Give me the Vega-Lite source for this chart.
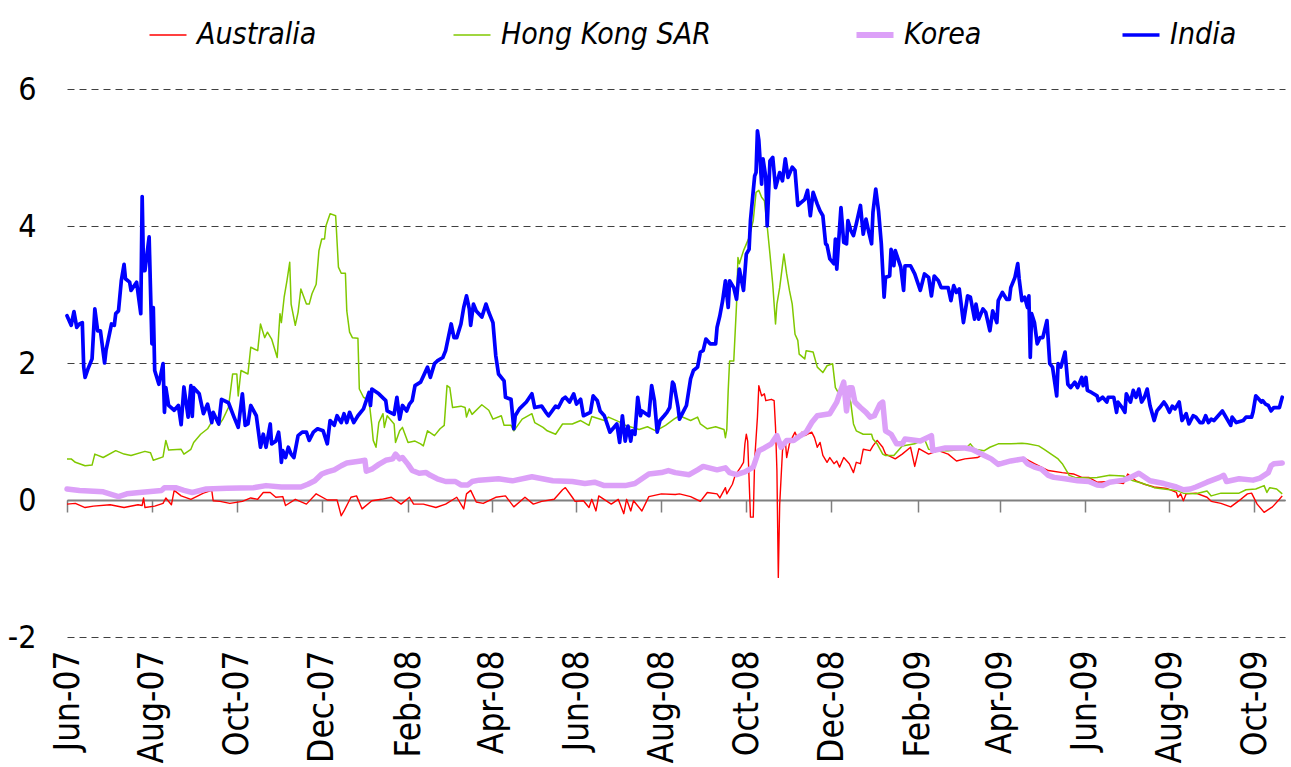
{
"$schema": "https://vega.github.io/schema/vega-lite/v6.json",
"width": 1218, "height": 548,
"autosize": {"type": "none"},
"padding": {"left": 67, "top": 89, "right": 6, "bottom": 130},
"background": "white",
"config": {"view": {"stroke": null}, "font": "DejaVu Sans Condensed, Liberation Sans, sans-serif"},
"datasets": {
"india": [
{"date":"2007-06-01","value":2.69},{"date":"2007-06-04","value":2.55},{"date":"2007-06-06","value":2.75},{"date":"2007-06-08","value":2.52},{"date":"2007-06-10","value":2.57},{"date":"2007-06-12","value":2.59},{"date":"2007-06-13","value":1.94},{"date":"2007-06-14","value":1.79},{"date":"2007-06-16","value":1.91},{"date":"2007-06-19","value":2.06},{"date":"2007-06-21","value":2.79},{"date":"2007-06-23","value":2.47},{"date":"2007-06-25","value":2.47},{"date":"2007-06-28","value":2.0},{"date":"2007-06-29","value":2.18},
{"date":"2007-07-03","value":2.57},{"date":"2007-07-05","value":2.55},{"date":"2007-07-06","value":2.72},{"date":"2007-07-08","value":2.76},{"date":"2007-07-10","value":3.2},{"date":"2007-07-12","value":3.44},{"date":"2007-07-13","value":3.23},{"date":"2007-07-16","value":3.18},{"date":"2007-07-17","value":3.06},{"date":"2007-07-21","value":3.18},{"date":"2007-07-24","value":2.72},{"date":"2007-07-25","value":4.43},{"date":"2007-07-26","value":3.35},{"date":"2007-07-27","value":3.35},{"date":"2007-07-30","value":3.84},
{"date":"2007-08-01","value":2.28},{"date":"2007-08-02","value":2.81},{"date":"2007-08-03","value":1.89},{"date":"2007-08-06","value":1.69},{"date":"2007-08-09","value":1.99},{"date":"2007-08-10","value":1.28},{"date":"2007-08-11","value":1.64},{"date":"2007-08-13","value":1.38},{"date":"2007-08-17","value":1.31},{"date":"2007-08-20","value":1.38},{"date":"2007-08-22","value":1.1},{"date":"2007-08-24","value":1.65},{"date":"2007-08-27","value":1.21},{"date":"2007-08-29","value":1.67},{"date":"2007-08-30","value":1.22},{"date":"2007-08-31","value":1.64},
{"date":"2007-09-04","value":1.55},{"date":"2007-09-07","value":1.26},{"date":"2007-09-10","value":1.4},{"date":"2007-09-13","value":1.13},{"date":"2007-09-14","value":1.28},{"date":"2007-09-18","value":1.11},{"date":"2007-09-20","value":1.47},{"date":"2007-09-25","value":1.42},{"date":"2007-09-29","value":1.21},
{"date":"2007-10-02","value":1.06},{"date":"2007-10-05","value":1.55},{"date":"2007-10-07","value":1.09},{"date":"2007-10-09","value":1.11},{"date":"2007-10-11","value":1.38},{"date":"2007-10-15","value":1.23},{"date":"2007-10-18","value":0.77},{"date":"2007-10-20","value":0.96},{"date":"2007-10-22","value":0.77},{"date":"2007-10-25","value":1.11},{"date":"2007-10-26","value":0.82},{"date":"2007-10-29","value":0.86},{"date":"2007-10-31","value":0.99},
{"date":"2007-11-01","value":0.82},{"date":"2007-11-02","value":0.55},{"date":"2007-11-03","value":0.72},{"date":"2007-11-05","value":0.62},{"date":"2007-11-07","value":0.77},{"date":"2007-11-09","value":0.67},{"date":"2007-11-11","value":0.62},{"date":"2007-11-14","value":0.94},{"date":"2007-11-17","value":0.99},{"date":"2007-11-20","value":0.99},{"date":"2007-11-22","value":0.87},{"date":"2007-11-25","value":0.99},{"date":"2007-11-28","value":1.04},
{"date":"2007-12-02","value":1.01},{"date":"2007-12-05","value":0.82},{"date":"2007-12-07","value":1.16},{"date":"2007-12-10","value":1.09},{"date":"2007-12-12","value":1.23},{"date":"2007-12-15","value":1.13},{"date":"2007-12-17","value":1.26},{"date":"2007-12-19","value":1.13},{"date":"2007-12-21","value":1.28},{"date":"2007-12-24","value":1.13},{"date":"2007-12-27","value":1.23},{"date":"2007-12-31","value":1.33},
{"date":"2008-01-04","value":1.57},{"date":"2008-01-05","value":1.38},{"date":"2008-01-06","value":1.62},{"date":"2008-01-11","value":1.55},{"date":"2008-01-16","value":1.45},{"date":"2008-01-17","value":1.3},{"date":"2008-01-22","value":1.25},{"date":"2008-01-24","value":1.5},{"date":"2008-01-26","value":1.18},{"date":"2008-01-28","value":1.38},{"date":"2008-01-31","value":1.3},
{"date":"2008-02-02","value":1.4},{"date":"2008-02-04","value":1.45},{"date":"2008-02-06","value":1.67},{"date":"2008-02-10","value":1.72},{"date":"2008-02-15","value":1.94},{"date":"2008-02-17","value":1.79},{"date":"2008-02-20","value":1.99},{"date":"2008-02-22","value":2.03},{"date":"2008-02-26","value":2.08},{"date":"2008-02-28","value":2.18},{"date":"2008-02-29","value":2.28},
{"date":"2008-03-03","value":2.57},{"date":"2008-03-05","value":2.37},{"date":"2008-03-07","value":2.37},{"date":"2008-03-10","value":2.57},{"date":"2008-03-12","value":2.81},{"date":"2008-03-14","value":2.98},{"date":"2008-03-16","value":2.79},{"date":"2008-03-17","value":2.55},{"date":"2008-03-19","value":2.86},{"date":"2008-03-21","value":2.76},{"date":"2008-03-25","value":2.67},{"date":"2008-03-28","value":2.86},{"date":"2008-03-30","value":2.74},
{"date":"2008-04-02","value":2.59},{"date":"2008-04-04","value":2.11},{"date":"2008-04-06","value":1.84},{"date":"2008-04-10","value":1.74},{"date":"2008-04-11","value":1.5},{"date":"2008-04-15","value":1.47},{"date":"2008-04-17","value":1.04},{"date":"2008-04-18","value":1.23},{"date":"2008-04-21","value":1.33},{"date":"2008-04-26","value":1.43},{"date":"2008-04-30","value":1.55},
{"date":"2008-05-02","value":1.35},{"date":"2008-05-07","value":1.37},{"date":"2008-05-10","value":1.28},{"date":"2008-05-12","value":1.23},{"date":"2008-05-17","value":1.37},{"date":"2008-05-19","value":1.35},{"date":"2008-05-22","value":1.47},{"date":"2008-05-24","value":1.5},{"date":"2008-05-27","value":1.43},{"date":"2008-05-30","value":1.55},
{"date":"2008-06-01","value":1.4},{"date":"2008-06-04","value":1.47},{"date":"2008-06-06","value":1.23},{"date":"2008-06-11","value":1.28},{"date":"2008-06-13","value":1.52},{"date":"2008-06-16","value":1.45},{"date":"2008-06-18","value":1.3},{"date":"2008-06-21","value":1.23},{"date":"2008-06-23","value":1.11},{"date":"2008-06-25","value":0.99},{"date":"2008-06-30","value":1.11},
{"date":"2008-07-02","value":0.84},{"date":"2008-07-04","value":1.23},{"date":"2008-07-06","value":0.86},{"date":"2008-07-08","value":1.08},{"date":"2008-07-10","value":0.86},{"date":"2008-07-11","value":1.01},{"date":"2008-07-13","value":0.96},{"date":"2008-07-15","value":1.5},{"date":"2008-07-17","value":1.23},{"date":"2008-07-18","value":1.3},{"date":"2008-07-23","value":1.23},{"date":"2008-07-25","value":1.67},{"date":"2008-07-27","value":1.45},{"date":"2008-07-29","value":0.99},{"date":"2008-07-31","value":1.16},
{"date":"2008-08-03","value":1.23},{"date":"2008-08-05","value":1.28},{"date":"2008-08-07","value":1.35},{"date":"2008-08-09","value":1.72},{"date":"2008-08-10","value":1.69},{"date":"2008-08-13","value":1.35},{"date":"2008-08-14","value":1.18},{"date":"2008-08-17","value":1.3},{"date":"2008-08-19","value":1.38},{"date":"2008-08-22","value":1.77},{"date":"2008-08-24","value":1.89},{"date":"2008-08-27","value":1.94},{"date":"2008-08-29","value":2.16},{"date":"2008-08-31","value":2.18},
{"date":"2008-09-02","value":2.35},{"date":"2008-09-05","value":2.28},{"date":"2008-09-09","value":2.28},{"date":"2008-09-10","value":2.52},{"date":"2008-09-12","value":2.69},{"date":"2008-09-14","value":2.91},{"date":"2008-09-16","value":3.2},{"date":"2008-09-18","value":2.81},{"date":"2008-09-19","value":3.2},{"date":"2008-09-22","value":3.1},{"date":"2008-09-24","value":2.93},{"date":"2008-09-26","value":3.37},{"date":"2008-09-29","value":3.06},
{"date":"2008-10-01","value":3.59},{"date":"2008-10-03","value":3.66},{"date":"2008-10-04","value":4.08},{"date":"2008-10-07","value":4.73},{"date":"2008-10-08","value":4.78},{"date":"2008-10-09","value":5.39},{"date":"2008-10-10","value":5.25},{"date":"2008-10-12","value":4.61},{"date":"2008-10-13","value":4.98},{"date":"2008-10-15","value":4.71},{"date":"2008-10-16","value":4.0},{"date":"2008-10-18","value":4.95},{"date":"2008-10-20","value":5.0},{"date":"2008-10-22","value":4.56},{"date":"2008-10-25","value":4.78},{"date":"2008-10-27","value":4.66},{"date":"2008-10-29","value":4.98},{"date":"2008-10-31","value":4.71},
{"date":"2008-11-03","value":4.86},{"date":"2008-11-05","value":4.81},{"date":"2008-11-07","value":4.3},{"date":"2008-11-12","value":4.39},{"date":"2008-11-14","value":4.52},{"date":"2008-11-16","value":4.15},{"date":"2008-11-18","value":4.49},{"date":"2008-11-21","value":4.32},{"date":"2008-11-23","value":4.22},{"date":"2008-11-25","value":4.15},{"date":"2008-11-27","value":3.74},{"date":"2008-11-28","value":3.72},{"date":"2008-11-30","value":3.52},
{"date":"2008-12-03","value":3.45},{"date":"2008-12-04","value":3.81},{"date":"2008-12-05","value":3.37},{"date":"2008-12-08","value":4.27},{"date":"2008-12-10","value":3.76},{"date":"2008-12-12","value":3.74},{"date":"2008-12-13","value":4.08},{"date":"2008-12-15","value":3.94},{"date":"2008-12-17","value":3.86},{"date":"2008-12-19","value":4.03},{"date":"2008-12-22","value":4.3},{"date":"2008-12-24","value":3.88},{"date":"2008-12-26","value":4.1},{"date":"2008-12-28","value":3.91},{"date":"2008-12-30","value":3.74},{"date":"2008-12-31","value":4.2},
{"date":"2009-01-02","value":4.54},{"date":"2009-01-04","value":4.22},{"date":"2009-01-06","value":3.74},{"date":"2009-01-08","value":2.96},{"date":"2009-01-09","value":3.25},{"date":"2009-01-12","value":3.27},{"date":"2009-01-13","value":3.66},{"date":"2009-01-15","value":3.42},{"date":"2009-01-16","value":3.64},{"date":"2009-01-18","value":3.52},{"date":"2009-01-20","value":3.4},{"date":"2009-01-22","value":3.06},{"date":"2009-01-23","value":3.42},{"date":"2009-01-27","value":3.42},{"date":"2009-01-30","value":3.3},
{"date":"2009-02-01","value":3.18},{"date":"2009-02-03","value":3.06},{"date":"2009-02-06","value":3.3},{"date":"2009-02-09","value":3.25},{"date":"2009-02-11","value":2.98},{"date":"2009-02-13","value":3.27},{"date":"2009-02-16","value":3.2},{"date":"2009-02-18","value":3.1},{"date":"2009-02-23","value":3.1},{"date":"2009-02-25","value":2.91},{"date":"2009-02-27","value":3.13},
{"date":"2009-03-01","value":3.03},{"date":"2009-03-03","value":3.08},{"date":"2009-03-06","value":2.59},{"date":"2009-03-09","value":2.98},{"date":"2009-03-11","value":2.96},{"date":"2009-03-14","value":2.64},{"date":"2009-03-15","value":2.86},{"date":"2009-03-17","value":2.64},{"date":"2009-03-20","value":2.79},{"date":"2009-03-22","value":2.74},{"date":"2009-03-25","value":2.47},{"date":"2009-03-27","value":2.76},{"date":"2009-03-30","value":2.59},{"date":"2009-03-31","value":2.91},
{"date":"2009-04-03","value":3.03},{"date":"2009-04-06","value":2.93},{"date":"2009-04-08","value":2.93},{"date":"2009-04-09","value":3.1},{"date":"2009-04-12","value":3.25},{"date":"2009-04-14","value":3.45},{"date":"2009-04-15","value":3.23},{"date":"2009-04-17","value":2.91},{"date":"2009-04-19","value":2.96},{"date":"2009-04-21","value":2.81},{"date":"2009-04-22","value":2.98},{"date":"2009-04-23","value":2.08},{"date":"2009-04-24","value":2.72},{"date":"2009-04-26","value":2.59},{"date":"2009-04-28","value":2.28},{"date":"2009-04-30","value":2.37},
{"date":"2009-05-02","value":2.37},{"date":"2009-05-05","value":2.62},{"date":"2009-05-07","value":1.99},{"date":"2009-05-09","value":1.94},{"date":"2009-05-12","value":1.52},{"date":"2009-05-13","value":1.99},{"date":"2009-05-15","value":1.94},{"date":"2009-05-18","value":2.16},{"date":"2009-05-20","value":1.69},{"date":"2009-05-22","value":1.64},{"date":"2009-05-25","value":1.72},{"date":"2009-05-27","value":1.64},{"date":"2009-05-30","value":1.79},{"date":"2009-05-31","value":1.67},
{"date":"2009-06-02","value":1.79},{"date":"2009-06-03","value":1.6},{"date":"2009-06-06","value":1.57},{"date":"2009-06-10","value":1.52},{"date":"2009-06-11","value":1.45},{"date":"2009-06-14","value":1.5},{"date":"2009-06-17","value":1.43},{"date":"2009-06-18","value":1.5},{"date":"2009-06-22","value":1.5},{"date":"2009-06-24","value":1.28},{"date":"2009-06-25","value":1.43},{"date":"2009-06-28","value":1.35},{"date":"2009-06-30","value":1.28},
{"date":"2009-07-01","value":1.55},{"date":"2009-07-04","value":1.43},{"date":"2009-07-06","value":1.6},{"date":"2009-07-08","value":1.5},{"date":"2009-07-10","value":1.62},{"date":"2009-07-12","value":1.43},{"date":"2009-07-14","value":1.5},{"date":"2009-07-16","value":1.62},{"date":"2009-07-18","value":1.38},{"date":"2009-07-21","value":1.16},{"date":"2009-07-23","value":1.3},{"date":"2009-07-25","value":1.35},{"date":"2009-07-28","value":1.43},{"date":"2009-07-30","value":1.37},
{"date":"2009-08-01","value":1.28},{"date":"2009-08-03","value":1.37},{"date":"2009-08-05","value":1.33},{"date":"2009-08-08","value":1.43},{"date":"2009-08-10","value":1.16},{"date":"2009-08-13","value":1.26},{"date":"2009-08-15","value":1.11},{"date":"2009-08-18","value":1.23},{"date":"2009-08-20","value":1.21},{"date":"2009-08-23","value":1.13},{"date":"2009-08-25","value":1.13},{"date":"2009-08-27","value":1.23},{"date":"2009-08-29","value":1.13},{"date":"2009-08-31","value":1.18},
{"date":"2009-09-02","value":1.16},{"date":"2009-09-05","value":1.23},{"date":"2009-09-08","value":1.3},{"date":"2009-09-10","value":1.23},{"date":"2009-09-14","value":1.09},{"date":"2009-09-15","value":1.21},{"date":"2009-09-18","value":1.13},{"date":"2009-09-23","value":1.16},{"date":"2009-09-25","value":1.21},{"date":"2009-09-29","value":1.21},{"date":"2009-09-30","value":1.28},
{"date":"2009-10-02","value":1.52},{"date":"2009-10-03","value":1.5},{"date":"2009-10-06","value":1.43},{"date":"2009-10-07","value":1.45},{"date":"2009-10-09","value":1.4},{"date":"2009-10-11","value":1.38},{"date":"2009-10-13","value":1.3},{"date":"2009-10-15","value":1.35},{"date":"2009-10-19","value":1.35},{"date":"2009-10-21","value":1.5}
],
"hongkong": [
{"date":"2007-06-01","value":0.6},{"date":"2007-06-04","value":0.6},{"date":"2007-06-07","value":0.55},{"date":"2007-06-10","value":0.53},{"date":"2007-06-14","value":0.5},{"date":"2007-06-19","value":0.51},{"date":"2007-06-21","value":0.67},{"date":"2007-06-27","value":0.62},{"date":"2007-07-06","value":0.72},{"date":"2007-07-12","value":0.67},{"date":"2007-07-17","value":0.65},{"date":"2007-07-27","value":0.71},{"date":"2007-07-31","value":0.69},{"date":"2007-08-02","value":0.58},{"date":"2007-08-09","value":0.63},{"date":"2007-08-11","value":0.87},{"date":"2007-08-13","value":0.73},{"date":"2007-08-22","value":0.74},{"date":"2007-08-24","value":0.67},{"date":"2007-08-29","value":0.74},{"date":"2007-08-31","value":0.84},
{"date":"2007-09-05","value":0.96},{"date":"2007-09-10","value":1.04},{"date":"2007-09-15","value":1.21},{"date":"2007-09-18","value":1.09},{"date":"2007-09-21","value":1.18},{"date":"2007-09-25","value":1.35},{"date":"2007-09-28","value":1.84},{"date":"2007-10-01","value":1.84},{"date":"2007-10-02","value":1.52},{"date":"2007-10-04","value":1.89},{"date":"2007-10-09","value":1.84},{"date":"2007-10-11","value":2.23},{"date":"2007-10-16","value":2.18},{"date":"2007-10-18","value":2.57},{"date":"2007-10-21","value":2.37},{"date":"2007-10-23","value":2.45},{"date":"2007-10-26","value":2.35},{"date":"2007-10-30","value":2.08},
{"date":"2007-11-01","value":2.72},{"date":"2007-11-02","value":2.59},{"date":"2007-11-04","value":2.96},{"date":"2007-11-06","value":3.2},{"date":"2007-11-08","value":3.47},{"date":"2007-11-09","value":2.86},{"date":"2007-11-12","value":2.55},{"date":"2007-11-14","value":2.74},{"date":"2007-11-16","value":3.08},{"date":"2007-11-20","value":2.86},{"date":"2007-11-22","value":2.86},{"date":"2007-11-24","value":3.01},{"date":"2007-11-27","value":3.15},{"date":"2007-11-29","value":3.64},
{"date":"2007-12-01","value":3.81},{"date":"2007-12-03","value":3.81},{"date":"2007-12-04","value":4.0},{"date":"2007-12-07","value":4.18},{"date":"2007-12-11","value":4.15},{"date":"2007-12-13","value":3.4},{"date":"2007-12-15","value":3.31},{"date":"2007-12-18","value":3.31},{"date":"2007-12-19","value":2.76},{"date":"2007-12-21","value":2.45},{"date":"2007-12-23","value":2.37},{"date":"2007-12-27","value":2.36},{"date":"2007-12-28","value":1.62},{"date":"2007-12-31","value":1.5},
{"date":"2008-01-04","value":1.45},{"date":"2008-01-06","value":1.09},{"date":"2008-01-07","value":0.87},{"date":"2008-01-09","value":0.77},{"date":"2008-01-11","value":1.13},{"date":"2008-01-14","value":1.26},{"date":"2008-01-15","value":1.06},{"date":"2008-01-17","value":1.23},{"date":"2008-01-22","value":1.11},{"date":"2008-01-23","value":0.84},{"date":"2008-01-26","value":1.01},{"date":"2008-01-28","value":1.06},
{"date":"2008-02-01","value":0.84},{"date":"2008-02-06","value":0.86},{"date":"2008-02-10","value":0.82},{"date":"2008-02-12","value":0.79},{"date":"2008-02-15","value":1.01},{"date":"2008-02-20","value":0.94},{"date":"2008-02-24","value":1.04},{"date":"2008-02-27","value":1.09},{"date":"2008-02-29","value":1.67},
{"date":"2008-03-02","value":1.64},{"date":"2008-03-04","value":1.35},{"date":"2008-03-10","value":1.37},{"date":"2008-03-13","value":1.35},{"date":"2008-03-14","value":1.21},{"date":"2008-03-16","value":1.33},{"date":"2008-03-18","value":1.25},{"date":"2008-03-25","value":1.39},{"date":"2008-03-30","value":1.31},
{"date":"2008-04-02","value":1.18},{"date":"2008-04-08","value":1.23},{"date":"2008-04-10","value":1.09},{"date":"2008-04-15","value":1.09},{"date":"2008-04-17","value":1.01},{"date":"2008-04-23","value":1.18},{"date":"2008-04-30","value":1.26},{"date":"2008-05-02","value":1.13},{"date":"2008-05-08","value":1.06},{"date":"2008-05-11","value":1.01},{"date":"2008-05-17","value":0.96},{"date":"2008-05-22","value":1.11},{"date":"2008-05-29","value":1.11},
{"date":"2008-06-04","value":1.16},{"date":"2008-06-10","value":1.09},{"date":"2008-06-12","value":1.22},{"date":"2008-06-21","value":1.16},{"date":"2008-06-24","value":1.21},{"date":"2008-07-03","value":1.13},{"date":"2008-07-06","value":1.09},{"date":"2008-07-16","value":1.03},{"date":"2008-07-22","value":1.07},{"date":"2008-07-28","value":1.01},{"date":"2008-08-04","value":1.09},{"date":"2008-08-10","value":1.18},{"date":"2008-08-14","value":1.23},{"date":"2008-08-22","value":1.16},{"date":"2008-08-27","value":1.21},{"date":"2008-08-29","value":1.11},
{"date":"2008-09-03","value":1.04},{"date":"2008-09-09","value":1.07},{"date":"2008-09-15","value":1.03},{"date":"2008-09-16","value":0.91},{"date":"2008-09-17","value":1.03},{"date":"2008-09-18","value":1.6},{"date":"2008-09-19","value":2.03},{"date":"2008-09-22","value":2.03},{"date":"2008-09-24","value":2.86},{"date":"2008-09-25","value":3.54},{"date":"2008-09-26","value":3.45},{"date":"2008-09-29","value":3.64},
{"date":"2008-10-03","value":3.83},{"date":"2008-10-06","value":4.08},{"date":"2008-10-08","value":4.49},{"date":"2008-10-10","value":4.52},{"date":"2008-10-12","value":4.42},{"date":"2008-10-14","value":4.37},{"date":"2008-10-16","value":4.0},{"date":"2008-10-18","value":3.59},{"date":"2008-10-20","value":3.15},{"date":"2008-10-22","value":2.57},{"date":"2008-10-23","value":2.86},{"date":"2008-10-25","value":3.1},{"date":"2008-10-28","value":3.59},{"date":"2008-10-30","value":3.3},
{"date":"2008-11-01","value":3.06},{"date":"2008-11-03","value":2.86},{"date":"2008-11-05","value":2.42},{"date":"2008-11-07","value":2.33},{"date":"2008-11-08","value":2.13},{"date":"2008-11-12","value":2.06},{"date":"2008-11-13","value":2.18},{"date":"2008-11-18","value":2.16},{"date":"2008-11-21","value":1.94},{"date":"2008-11-25","value":1.86},{"date":"2008-11-28","value":1.96},
{"date":"2008-12-02","value":1.99},{"date":"2008-12-04","value":1.64},{"date":"2008-12-06","value":1.57},{"date":"2008-12-12","value":1.57},{"date":"2008-12-15","value":1.43},{"date":"2008-12-17","value":1.11},{"date":"2008-12-19","value":1.01},{"date":"2008-12-24","value":0.96},{"date":"2008-12-30","value":0.96},{"date":"2008-12-31","value":0.89},
{"date":"2009-01-03","value":0.82},{"date":"2009-01-07","value":0.67},{"date":"2009-01-09","value":0.65},{"date":"2009-01-15","value":0.65},{"date":"2009-01-21","value":0.79},{"date":"2009-01-30","value":0.82},{"date":"2009-02-04","value":0.87},{"date":"2009-02-06","value":0.89},{"date":"2009-02-09","value":0.74},{"date":"2009-02-14","value":0.72},{"date":"2009-02-23","value":0.72},
{"date":"2009-03-07","value":0.74},{"date":"2009-03-11","value":0.82},{"date":"2009-03-14","value":0.74},{"date":"2009-03-21","value":0.72},{"date":"2009-03-25","value":0.77},{"date":"2009-03-31","value":0.82},{"date":"2009-04-09","value":0.82},{"date":"2009-04-17","value":0.83},{"date":"2009-04-21","value":0.82},{"date":"2009-04-29","value":0.79},
{"date":"2009-05-03","value":0.74},{"date":"2009-05-08","value":0.67},{"date":"2009-05-13","value":0.6},{"date":"2009-05-16","value":0.53},{"date":"2009-05-19","value":0.43},{"date":"2009-05-21","value":0.36},{"date":"2009-05-25","value":0.33},{"date":"2009-06-04","value":0.32},{"date":"2009-06-10","value":0.33},{"date":"2009-06-19","value":0.36},{"date":"2009-06-29","value":0.35},
{"date":"2009-07-06","value":0.28},{"date":"2009-07-13","value":0.24},{"date":"2009-07-21","value":0.18},{"date":"2009-07-28","value":0.16},{"date":"2009-08-06","value":0.14},{"date":"2009-08-11","value":0.1},{"date":"2009-08-20","value":0.09},{"date":"2009-08-28","value":0.13},{"date":"2009-08-31","value":0.06},
{"date":"2009-09-07","value":0.1},{"date":"2009-09-20","value":0.1},{"date":"2009-09-25","value":0.15},{"date":"2009-10-02","value":0.16},{"date":"2009-10-08","value":0.21},{"date":"2009-10-10","value":0.11},{"date":"2009-10-12","value":0.18},{"date":"2009-10-17","value":0.16},{"date":"2009-10-21","value":0.09}
],
"korea": [
{"date":"2007-06-01","value":0.16},{"date":"2007-06-10","value":0.14},{"date":"2007-06-27","value":0.12},{"date":"2007-07-08","value":0.05},{"date":"2007-07-14","value":0.09},{"date":"2007-07-23","value":0.11},{"date":"2007-08-08","value":0.14},{"date":"2007-08-10","value":0.18},{"date":"2007-08-18","value":0.18},{"date":"2007-08-24","value":0.14},{"date":"2007-08-30","value":0.11},{"date":"2007-09-09","value":0.16},{"date":"2007-09-24","value":0.17},{"date":"2007-10-13","value":0.18},{"date":"2007-10-22","value":0.21},
{"date":"2007-11-02","value":0.19},{"date":"2007-11-16","value":0.19},{"date":"2007-11-21","value":0.23},{"date":"2007-11-26","value":0.28},{"date":"2007-12-01","value":0.38},{"date":"2007-12-05","value":0.41},{"date":"2007-12-10","value":0.44},{"date":"2007-12-15","value":0.5},{"date":"2007-12-19","value":0.54},{"date":"2007-12-29","value":0.57},
{"date":"2008-01-01","value":0.58},{"date":"2008-01-02","value":0.42},{"date":"2008-01-06","value":0.45},{"date":"2008-01-11","value":0.52},{"date":"2008-01-16","value":0.58},{"date":"2008-01-21","value":0.6},{"date":"2008-01-23","value":0.67},{"date":"2008-01-26","value":0.6},{"date":"2008-01-28","value":0.62},
{"date":"2008-02-01","value":0.52},{"date":"2008-02-04","value":0.43},{"date":"2008-02-09","value":0.39},{"date":"2008-02-14","value":0.4},{"date":"2008-02-17","value":0.36},{"date":"2008-02-22","value":0.31},{"date":"2008-02-28","value":0.27},{"date":"2008-03-06","value":0.27},{"date":"2008-03-10","value":0.22},{"date":"2008-03-15","value":0.22},{"date":"2008-03-18","value":0.27},{"date":"2008-03-23","value":0.29},
{"date":"2008-04-06","value":0.31},{"date":"2008-04-16","value":0.28},{"date":"2008-04-30","value":0.34},{"date":"2008-05-15","value":0.28},{"date":"2008-05-29","value":0.27},{"date":"2008-06-07","value":0.24},{"date":"2008-06-14","value":0.26},{"date":"2008-06-21","value":0.21},{"date":"2008-07-06","value":0.21},{"date":"2008-07-13","value":0.24},{"date":"2008-07-18","value":0.31},{"date":"2008-07-23","value":0.38},
{"date":"2008-08-01","value":0.4},{"date":"2008-08-06","value":0.43},{"date":"2008-08-11","value":0.4},{"date":"2008-08-21","value":0.37},{"date":"2008-08-27","value":0.44},{"date":"2008-08-31","value":0.49},{"date":"2008-09-10","value":0.44},{"date":"2008-09-16","value":0.47},{"date":"2008-09-19","value":0.4},{"date":"2008-09-24","value":0.37},{"date":"2008-09-30","value":0.41},
{"date":"2008-10-06","value":0.48},{"date":"2008-10-10","value":0.72},{"date":"2008-10-14","value":0.76},{"date":"2008-10-19","value":0.82},{"date":"2008-10-23","value":0.94},{"date":"2008-10-26","value":0.77},{"date":"2008-10-30","value":0.87},{"date":"2008-11-04","value":0.87},{"date":"2008-11-09","value":0.94},{"date":"2008-11-13","value":0.99},{"date":"2008-11-17","value":1.13},{"date":"2008-11-21","value":1.23},{"date":"2008-11-30","value":1.26},
{"date":"2008-12-05","value":1.43},{"date":"2008-12-07","value":1.55},{"date":"2008-12-10","value":1.72},{"date":"2008-12-12","value":1.3},{"date":"2008-12-14","value":1.64},{"date":"2008-12-16","value":1.64},{"date":"2008-12-18","value":1.43},{"date":"2008-12-22","value":1.35},{"date":"2008-12-26","value":1.28},{"date":"2008-12-29","value":1.21},
{"date":"2009-01-01","value":1.23},{"date":"2009-01-05","value":1.4},{"date":"2009-01-07","value":1.43},{"date":"2009-01-09","value":1.01},{"date":"2009-01-13","value":0.96},{"date":"2009-01-17","value":0.82},{"date":"2009-01-21","value":0.82},{"date":"2009-01-23","value":0.89},{"date":"2009-02-03","value":0.86},{"date":"2009-02-11","value":0.94},{"date":"2009-02-12","value":0.72},{"date":"2009-02-21","value":0.76},
{"date":"2009-03-07","value":0.76},{"date":"2009-03-12","value":0.74},{"date":"2009-03-16","value":0.7},{"date":"2009-03-21","value":0.65},{"date":"2009-03-26","value":0.6},{"date":"2009-03-31","value":0.52},{"date":"2009-04-09","value":0.57},{"date":"2009-04-18","value":0.6},{"date":"2009-04-21","value":0.53},{"date":"2009-04-26","value":0.48},
{"date":"2009-05-01","value":0.45},{"date":"2009-05-06","value":0.36},{"date":"2009-05-10","value":0.33},{"date":"2009-05-18","value":0.31},{"date":"2009-05-27","value":0.28},{"date":"2009-06-04","value":0.27},{"date":"2009-06-10","value":0.22},{"date":"2009-06-14","value":0.21},{"date":"2009-06-19","value":0.26},{"date":"2009-06-29","value":0.29},
{"date":"2009-07-04","value":0.33},{"date":"2009-07-10","value":0.39},{"date":"2009-07-18","value":0.28},{"date":"2009-07-28","value":0.24},{"date":"2009-08-06","value":0.19},{"date":"2009-08-11","value":0.15},{"date":"2009-08-16","value":0.16},{"date":"2009-08-20","value":0.19},{"date":"2009-08-28","value":0.26},
{"date":"2009-09-06","value":0.33},{"date":"2009-09-09","value":0.36},{"date":"2009-09-11","value":0.27},{"date":"2009-09-20","value":0.31},{"date":"2009-09-30","value":0.29},{"date":"2009-10-05","value":0.32},{"date":"2009-10-11","value":0.4},{"date":"2009-10-13","value":0.5},{"date":"2009-10-15","value":0.53},{"date":"2009-10-21","value":0.54}
],
"australia": [
{"date":"2007-06-01","value":-0.06},{"date":"2007-06-07","value":-0.05},{"date":"2007-06-14","value":-0.11},{"date":"2007-06-20","value":-0.09},{"date":"2007-07-02","value":-0.07},{"date":"2007-07-12","value":-0.11},{"date":"2007-07-22","value":-0.07},{"date":"2007-07-25","value":-0.08},{"date":"2007-07-26","value":0.03},{"date":"2007-07-27","value":-0.11},
{"date":"2007-08-03","value":-0.09},{"date":"2007-08-09","value":-0.05},{"date":"2007-08-11","value":0.03},{"date":"2007-08-15","value":-0.07},{"date":"2007-08-17","value":0.14},{"date":"2007-08-22","value":0.06},{"date":"2007-08-29","value":0.01},{"date":"2007-09-07","value":0.1},{"date":"2007-09-13","value":0.14},{"date":"2007-09-14","value":-0.01},{"date":"2007-09-19","value":-0.02},{"date":"2007-09-26","value":-0.05},
{"date":"2007-10-05","value":-0.02},{"date":"2007-10-11","value":0.03},{"date":"2007-10-16","value":0.01},{"date":"2007-10-20","value":0.11},{"date":"2007-10-25","value":0.11},{"date":"2007-10-29","value":0.04},{"date":"2007-11-03","value":0.05},{"date":"2007-11-05","value":-0.08},{"date":"2007-11-12","value":0.01},{"date":"2007-11-20","value":-0.06},{"date":"2007-11-27","value":0.09},
{"date":"2007-12-05","value":0.0},{"date":"2007-12-12","value":0.0},{"date":"2007-12-15","value":-0.23},{"date":"2007-12-17","value":-0.16},{"date":"2007-12-22","value":0.04},{"date":"2007-12-26","value":0.06},{"date":"2007-12-30","value":-0.13},
{"date":"2008-01-06","value":-0.01},{"date":"2008-01-13","value":0.01},{"date":"2008-01-20","value":0.04},{"date":"2008-01-27","value":-0.06},{"date":"2008-02-02","value":0.04},{"date":"2008-02-05","value":-0.06},{"date":"2008-02-12","value":-0.06},{"date":"2008-02-21","value":-0.11},{"date":"2008-02-28","value":-0.06},
{"date":"2008-03-07","value":0.04},{"date":"2008-03-12","value":-0.13},{"date":"2008-03-14","value":0.09},{"date":"2008-03-17","value":0.14},{"date":"2008-03-21","value":-0.03},{"date":"2008-03-26","value":-0.05},{"date":"2008-04-04","value":0.04},{"date":"2008-04-11","value":0.06},{"date":"2008-04-17","value":-0.1},{"date":"2008-04-25","value":0.04},
{"date":"2008-05-01","value":-0.06},{"date":"2008-05-07","value":-0.02},{"date":"2008-05-16","value":0.01},{"date":"2008-05-22","value":0.15},{"date":"2008-05-24","value":0.18},{"date":"2008-05-29","value":0.04},{"date":"2008-05-31","value":-0.02},
{"date":"2008-06-06","value":-0.01},{"date":"2008-06-10","value":-0.11},{"date":"2008-06-12","value":0.01},{"date":"2008-06-15","value":-0.16},{"date":"2008-06-17","value":0.06},{"date":"2008-06-26","value":-0.06},{"date":"2008-07-01","value":0.01},{"date":"2008-07-05","value":-0.2},{"date":"2008-07-07","value":0.01},{"date":"2008-07-10","value":-0.16},{"date":"2008-07-12","value":-0.01},{"date":"2008-07-18","value":-0.16},{"date":"2008-07-23","value":0.05},
{"date":"2008-08-01","value":0.09},{"date":"2008-08-11","value":0.08},{"date":"2008-08-14","value":0.09},{"date":"2008-08-22","value":0.05},{"date":"2008-08-29","value":-0.02},{"date":"2008-09-03","value":0.11},{"date":"2008-09-10","value":0.09},{"date":"2008-09-12","value":0.03},{"date":"2008-09-16","value":0.18},{"date":"2008-09-17","value":0.09},{"date":"2008-09-21","value":0.23},{"date":"2008-09-23","value":0.36},{"date":"2008-09-27","value":0.48},{"date":"2008-09-29","value":0.55},{"date":"2008-09-30","value":0.82},
{"date":"2008-10-01","value":0.96},{"date":"2008-10-02","value":0.86},{"date":"2008-10-04","value":-0.25},{"date":"2008-10-06","value":-0.25},{"date":"2008-10-07","value":0.58},{"date":"2008-10-09","value":1.21},{"date":"2008-10-10","value":1.67},{"date":"2008-10-12","value":1.52},{"date":"2008-10-14","value":1.55},{"date":"2008-10-15","value":1.45},{"date":"2008-10-19","value":1.47},{"date":"2008-10-21","value":1.45},{"date":"2008-10-22","value":1.06},{"date":"2008-10-23","value":0.43},{"date":"2008-10-24","value":-1.13},{"date":"2008-10-25","value":-0.06},{"date":"2008-10-27","value":0.72},{"date":"2008-10-29","value":0.87},{"date":"2008-10-30","value":0.62},
{"date":"2008-11-01","value":0.82},{"date":"2008-11-03","value":0.91},{"date":"2008-11-05","value":0.99},{"date":"2008-11-07","value":0.89},{"date":"2008-11-10","value":0.99},{"date":"2008-11-12","value":0.94},{"date":"2008-11-17","value":0.99},{"date":"2008-11-19","value":0.91},{"date":"2008-11-21","value":0.77},{"date":"2008-11-23","value":0.84},{"date":"2008-11-25","value":0.65},{"date":"2008-11-28","value":0.55},{"date":"2008-11-30","value":0.62},
{"date":"2008-12-03","value":0.53},{"date":"2008-12-05","value":0.57},{"date":"2008-12-07","value":0.48},{"date":"2008-12-10","value":0.62},{"date":"2008-12-14","value":0.53},{"date":"2008-12-17","value":0.4},{"date":"2008-12-19","value":0.55},{"date":"2008-12-22","value":0.53},{"date":"2008-12-24","value":0.74},{"date":"2008-12-29","value":0.72},{"date":"2008-12-31","value":0.79},
{"date":"2009-01-03","value":0.87},{"date":"2009-01-07","value":0.77},{"date":"2009-01-09","value":0.67},{"date":"2009-01-16","value":0.6},{"date":"2009-01-21","value":0.67},{"date":"2009-01-27","value":0.77},{"date":"2009-01-30","value":0.49},{"date":"2009-02-02","value":0.75},{"date":"2009-02-09","value":0.67},{"date":"2009-02-16","value":0.72},{"date":"2009-02-23","value":0.67},
{"date":"2009-03-01","value":0.57},{"date":"2009-03-07","value":0.6},{"date":"2009-03-16","value":0.62},{"date":"2009-03-21","value":0.67},{"date":"2009-03-31","value":0.55},{"date":"2009-04-09","value":0.58},{"date":"2009-04-18","value":0.62},{"date":"2009-04-26","value":0.53},{"date":"2009-05-06","value":0.43},{"date":"2009-05-16","value":0.4},{"date":"2009-05-24","value":0.38},{"date":"2009-05-30","value":0.33},
{"date":"2009-06-04","value":0.33},{"date":"2009-06-10","value":0.26},{"date":"2009-06-19","value":0.27},{"date":"2009-06-29","value":0.24},{"date":"2009-07-02","value":0.38},{"date":"2009-07-08","value":0.28},{"date":"2009-07-14","value":0.23},{"date":"2009-07-21","value":0.19},{"date":"2009-07-30","value":0.17},
{"date":"2009-08-06","value":0.11},{"date":"2009-08-07","value":0.04},{"date":"2009-08-09","value":0.09},{"date":"2009-08-11","value":-0.01},{"date":"2009-08-13","value":0.09},{"date":"2009-08-20","value":0.1},{"date":"2009-08-28","value":0.04},{"date":"2009-08-31","value":-0.02},
{"date":"2009-09-07","value":-0.05},{"date":"2009-09-14","value":-0.1},{"date":"2009-09-20","value":-0.01},{"date":"2009-09-26","value":0.09},{"date":"2009-09-29","value":0.1},{"date":"2009-10-03","value":-0.06},{"date":"2009-10-08","value":-0.18},{"date":"2009-10-14","value":-0.1},{"date":"2009-10-19","value":0.01},{"date":"2009-10-21","value":0.06}
]
},
"encoding": {
 "x": {"field": "date", "type": "temporal", "title": null,
   "scale": {"type": "utc", "domain": [{"year":2007,"month":6,"date":1,"utc":true},{"year":2009,"month":10,"date":23,"utc":true}]},
   "axis": {"orient": "bottom", "offset": -137, "format": "%b-%y",
     "values": [{"year":2007,"month":6,"date":1,"utc":true},{"year":2007,"month":8,"date":1,"utc":true},{"year":2007,"month":10,"date":1,"utc":true},{"year":2007,"month":12,"date":1,"utc":true},{"year":2008,"month":2,"date":1,"utc":true},{"year":2008,"month":4,"date":1,"utc":true},{"year":2008,"month":6,"date":1,"utc":true},{"year":2008,"month":8,"date":1,"utc":true},{"year":2008,"month":10,"date":1,"utc":true},{"year":2008,"month":12,"date":1,"utc":true},{"year":2009,"month":2,"date":1,"utc":true},{"year":2009,"month":4,"date":1,"utc":true},{"year":2009,"month":6,"date":1,"utc":true},{"year":2009,"month":8,"date":1,"utc":true},{"year":2009,"month":10,"date":1,"utc":true}],
     "labelAngle": 270, "labelAlign": "right", "labelBaseline": "middle", "labelPadding": 138,
     "labelFont": "DejaVu Sans Condensed, Liberation Sans, sans-serif", "labelFontSize": 35, "labelColor": "black",
     "labelOverlap": false, "labelFlush": false, "labelBound": false,
     "tickSize": 12, "tickColor": "#7f7f7f", "tickWidth": 1.5,
     "domainColor": "#7f7f7f", "domainWidth": 2, "grid": false}},
 "y": {"field": "value", "type": "quantitative", "title": null,
   "scale": {"domain": [-2, 6], "nice": false, "zero": false},
   "axis": {"values": [-2, 0, 2, 4, 6], "domain": false, "ticks": false, "labelPadding": 31,
     "labelFont": "DejaVu Sans Condensed, Liberation Sans, sans-serif", "labelFontSize": 32, "labelColor": "black",
     "labelExpr": "toString(datum.value)",
     "grid": true, "gridDash": [7, 5], "gridColor": "#404040", "gridWidth": 1}}
},
"layer": [
 {"data": {"name": "australia"},
  "mark": {"type": "line", "strokeWidth": 1.4, "strokeJoin": "round"},
  "encoding": {"color": {"datum": "Australia", "type": "nominal",
    "scale": {"domain": ["Australia", "Hong Kong SAR", "Korea", "India"], "range": ["#ff0000", "#80c800", "#dca0f8", "#0000ff"]},
    "legend": {"orient": "none", "legendX": 86, "legendY": -69, "direction": "horizontal", "columns": 4, "title": null,
      "symbolType": "stroke", "symbolSize": 1369, "symbolStrokeWidth": 2,
      "labelFont": "DejaVu Sans Condensed, Liberation Sans, sans-serif", "labelFontStyle": "italic", "labelFontSize": 30, "labelColor": "black",
      "labelOffset": 14, "columnPadding": 133, "labelLimit": 400, "padding": 0,
      "encode": {"symbols": {"update": {"strokeWidth": {"signal": "datum.value === 'Korea' ? 6 : datum.value === 'India' ? 3.5 : 1.5"}}}}}}}},
 {"data": {"name": "hongkong"},
  "mark": {"type": "line", "strokeWidth": 1.5, "strokeJoin": "round"},
  "encoding": {"color": {"datum": "Hong Kong SAR", "type": "nominal"}}},
 {"data": {"name": "korea"},
  "mark": {"type": "line", "strokeWidth": 5.5, "strokeJoin": "round", "strokeCap": "round"},
  "encoding": {"color": {"datum": "Korea", "type": "nominal"}}},
 {"data": {"name": "india"},
  "mark": {"type": "line", "strokeWidth": 3.7, "strokeJoin": "round", "strokeCap": "round"},
  "encoding": {"color": {"datum": "India", "type": "nominal"}}}
]
}
